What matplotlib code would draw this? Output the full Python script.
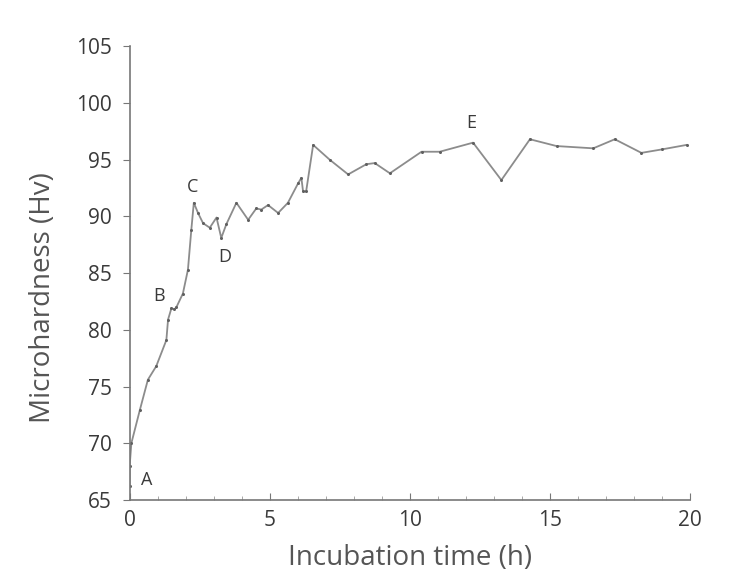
import matplotlib
matplotlib.use("Agg")
import matplotlib.pyplot as plt
from matplotlib.ticker import MultipleLocator

# incubation time (h) and microhardness (Hv)
time_h = [0.0, 0.0, 0.06, 0.36, 0.65, 0.95, 1.31, 1.37, 1.49, 1.6, 1.67, 1.9,
          2.08, 2.2, 2.29, 2.44, 2.62, 2.86, 3.1, 3.27, 3.45, 3.81, 4.23, 4.52,
          4.7, 4.94, 5.3, 5.65, 6.01, 6.13, 6.19, 6.3, 6.55, 7.14, 7.8, 8.45,
          8.75, 9.29, 10.42, 11.07, 12.26, 13.27, 14.29, 15.24, 16.55, 17.32,
          18.27, 18.99, 19.88]
hardness = [66.2, 68.0, 70.0, 72.9, 75.6, 76.8, 79.1, 80.9, 81.9, 81.8, 82.0,
            83.2, 85.3, 88.8, 91.2, 90.3, 89.4, 89.0, 89.9, 88.1, 89.3, 91.2,
            89.7, 90.7, 90.6, 91.0, 90.3, 91.2, 92.9, 93.4, 92.2, 92.2, 96.3,
            95.0, 93.7, 94.6, 94.7, 93.8, 95.7, 95.7, 96.5, 93.2, 96.8, 96.2,
            96.0, 96.8, 95.6, 95.9, 96.3]

# stage labels and where they sit
stage_names = ["A", "B", "C", "D", "E"]
stage_x = [0.6, 1.05, 2.25, 3.4, 12.2]
stage_y = [66.8, 83.0, 92.6, 86.4, 98.2]

plt.rcParams["font.family"] = ["Open Sans", "DejaVu Sans"]
text_color = "#3a3a3a"

fig = plt.figure(figsize=(7.41, 5.78), dpi=100)
ax = fig.add_axes([0.175, 0.135, 0.756, 0.785])

ax.plot(time_h, hardness, color="#8c8c8c", lw=1.3, marker="o", ms=2.2,
        mfc="#606060", mec="none")

for name, x, y in zip(stage_names, stage_x, stage_y):
    ax.text(x, y, name, ha="center", va="center", fontsize=13, color=text_color)

ax.set_xlim(0, 20)
ax.set_ylim(65, 105)
ax.xaxis.set_major_locator(MultipleLocator(5))
ax.xaxis.set_minor_locator(MultipleLocator(1))
ax.yaxis.set_major_locator(MultipleLocator(5))

for side in ["top", "right"]:
    ax.spines[side].set_visible(False)
for side in ["left", "bottom"]:
    ax.spines[side].set_color("#777777")
    ax.spines[side].set_linewidth(1.2)

ax.tick_params(axis="x", which="major", direction="in", length=5,
               color="#777777", labelsize=15, labelcolor=text_color, pad=7)
ax.tick_params(axis="x", which="minor", direction="in", length=3,
               color="#999999")
ax.tick_params(axis="y", which="major", direction="out", length=5,
               color="#777777", labelsize=15, labelcolor=text_color, pad=8)

ax.set_xlabel("Incubation time (h)", fontsize=20, color="#555555")
ax.set_ylabel("Microhardness (Hv)", fontsize=20, color="#555555")
ax.xaxis.set_label_coords(0.5, -0.097)
ax.yaxis.set_label_coords(-0.13, 0.445)

fig.savefig("out.png", dpi=100, facecolor="white")
